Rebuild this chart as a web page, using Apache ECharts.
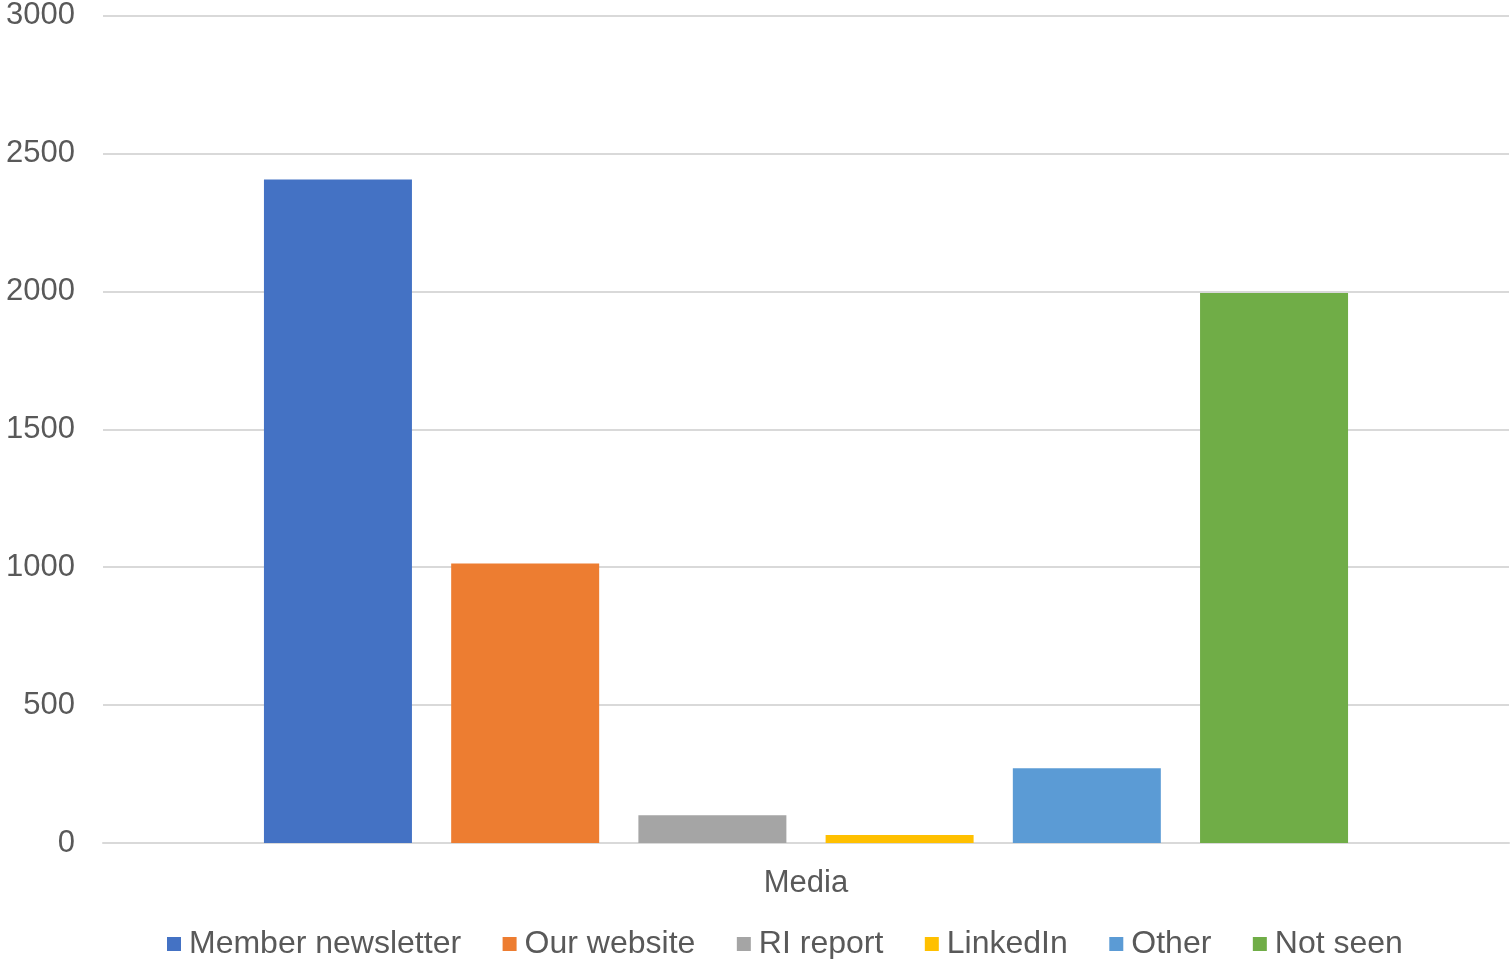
<!DOCTYPE html>
<html>
<head>
<meta charset="utf-8">
<style>
  html, body { margin: 0; padding: 0; background: #ffffff; }
  #chart { width: 1512px; height: 959px; }
</style>
<script src="https://cdn.jsdelivr.net/npm/echarts@6/dist/echarts.min.js"></script>
</head>
<body>
<div id="chart"></div>
<script>
// Single category, one bar per channel
const categories = ['Media'];
const seriesNames = ['Member newsletter', 'Our website', 'RI report', 'LinkedIn', 'Other', 'Not seen'];
const memberNewsletter = [2405];
const ourWebsite = [1013];
const riReport = [101];
const linkedIn = [29];
const other = [271];
const notSeen = [1994];
const yTicks = { min: 0, max: 3000, step: 500 };

const seriesValues = [memberNewsletter, ourWebsite, riReport, linkedIn, other, notSeen];
const colors = ['#4472C4', '#ED7D31', '#A5A5A5', '#FFC000', '#5B9BD5', '#70AD47'];
const font = 'Liberation Sans, Arial, sans-serif';

const chart = echarts.init(document.getElementById('chart'));
chart.setOption({
  animation: false,
  color: colors,
  grid: { left: 103, right: 3, top: 14, bottom: 116, containLabel: false },
  legend: {
    data: seriesNames,
    left: 162,
    top: 923,
    icon: 'rect',
    itemWidth: 14,
    itemHeight: 14,
    itemGap: 41.5,
    textStyle: { fontFamily: font, fontSize: 32, color: '#595959', padding: [0, 0, 0, 3] }
  },
  xAxis: {
    type: 'category',
    data: categories,
    axisTick: { show: false },
    axisLine: { lineStyle: { color: '#d9d9d9', width: 2 } },
    axisLabel: { fontFamily: font, fontSize: 31, color: '#595959', margin: 25 }
  },
  yAxis: {
    type: 'value',
    min: yTicks.min,
    max: yTicks.max,
    interval: yTicks.step,
    axisLine: { show: false },
    axisTick: { show: false },
    splitLine: { lineStyle: { color: '#d9d9d9', width: 2 } },
    axisLabel: {
      fontFamily: font, fontSize: 31, color: '#595959', margin: 28,
      formatter: (v) => String(v)
    }
  },
  series: seriesNames.map((name, i) => ({
    name: name,
    type: 'bar',
    data: seriesValues[i],
    barWidth: 148,
    barGap: '26.5%'
  }))
});
</script>
</body>
</html>
